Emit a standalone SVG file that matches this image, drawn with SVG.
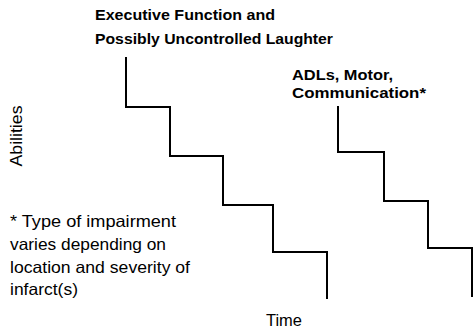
<svg xmlns="http://www.w3.org/2000/svg" width="474" height="331" viewBox="0 0 474 331">
<style>
.t{font-family:"Liberation Sans",Arial,sans-serif;fill:#000}
.b{font-weight:bold;font-size:15.5px}
.r{font-size:16.5px}
.s{fill:none;stroke:#000;stroke-width:2;stroke-linejoin:miter}
</style>
<rect width="474" height="331" fill="#fff"/>
<g id="connectors">
<path class="s" d="M126,57 V107 H170 V156 H223 V205 H273 V252 H327 V299"/>
<path class="s" d="M338,106 V152 H384 V201 H428 V248 H472 V297"/>
</g>
<g id="label-executive">
<text class="t b" x="95" y="20" textLength="180" lengthAdjust="spacingAndGlyphs">Executive Function and</text>
<text class="t b" x="95" y="44" textLength="238" lengthAdjust="spacingAndGlyphs">Possibly Uncontrolled Laughter</text>
</g>
<g id="label-adl">
<text class="t b" x="292" y="80" textLength="101" lengthAdjust="spacingAndGlyphs">ADLs, Motor,</text>
<text class="t b" x="292" y="98" textLength="134" lengthAdjust="spacingAndGlyphs">Communication*</text>
</g>
<g id="axis-y">
<text class="t r" transform="translate(22,136) rotate(-90)" text-anchor="middle" textLength="61" lengthAdjust="spacingAndGlyphs">Abilities</text>
</g>
<g id="axis-x">
<text class="t r" x="266" y="326" textLength="36" lengthAdjust="spacingAndGlyphs">Time</text>
</g>
<g id="footnote">
<text class="t r" x="10" y="227" textLength="166" lengthAdjust="spacingAndGlyphs">* Type of impairment</text>
<text class="t r" x="10" y="250" textLength="156" lengthAdjust="spacingAndGlyphs">varies depending on</text>
<text class="t r" x="10" y="273" textLength="180" lengthAdjust="spacingAndGlyphs">location and severity of</text>
<text class="t r" x="10" y="295" textLength="68" lengthAdjust="spacingAndGlyphs">infarct(s)</text>
</g>
</svg>
